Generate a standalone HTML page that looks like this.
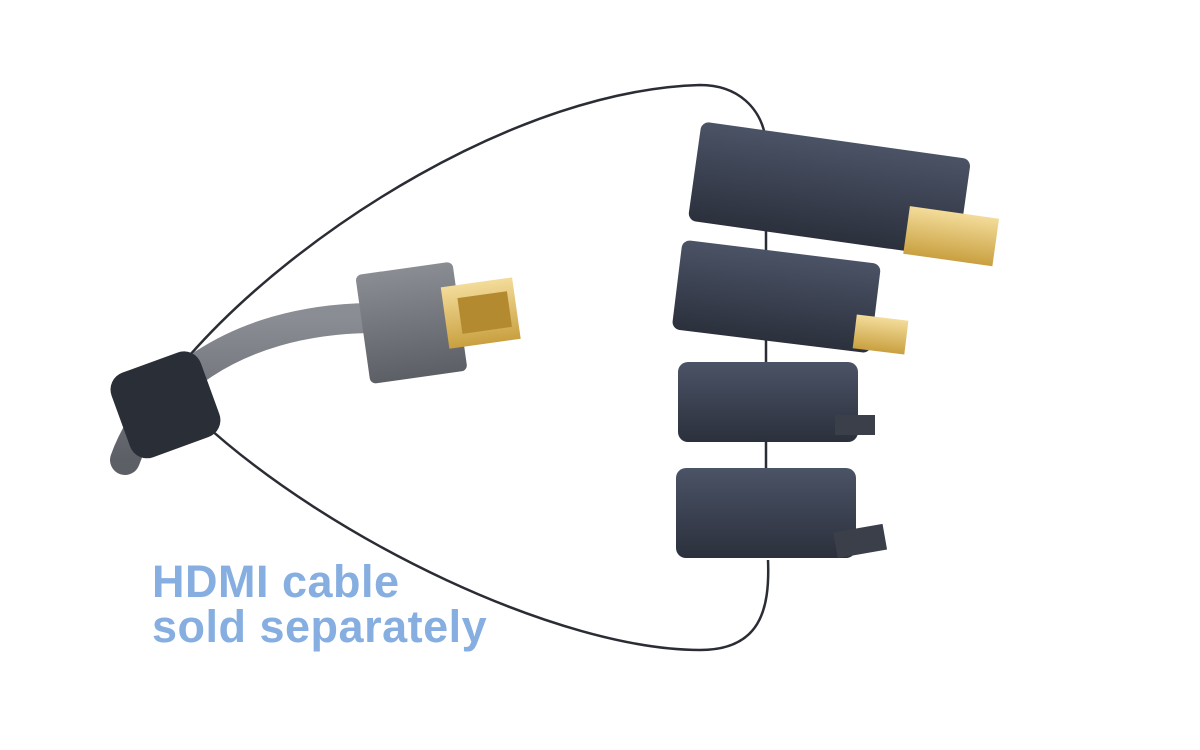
<!DOCTYPE html>
<html><head><meta charset="utf-8"><style>
html,body{margin:0;padding:0;background:#fff;width:1200px;height:750px;overflow:hidden}
.t{position:absolute;left:152px;font-family:"Liberation Sans",sans-serif;font-weight:bold;font-size:45px;letter-spacing:0.5px;color:#86aee0;line-height:46px}
</style></head><body>
<svg width="1200" height="750" style="position:absolute;left:0;top:0">
<defs>
<linearGradient id="nv" x1="0" y1="0" x2="0" y2="1"><stop offset="0" stop-color="#4b5366"/><stop offset="1" stop-color="#2b303c"/></linearGradient>
<linearGradient id="gd" x1="0" y1="0" x2="0" y2="1"><stop offset="0" stop-color="#f3dc9a"/><stop offset="1" stop-color="#c9a040"/></linearGradient>
<linearGradient id="gy" x1="0" y1="0" x2="0" y2="1"><stop offset="0" stop-color="#8a8d93"/><stop offset="1" stop-color="#5c5f66"/></linearGradient>
</defs>
<path d="M190,355 C300,230 520,90 700,85 C740,85 760,110 765,135" fill="none" stroke="#2a2d33" stroke-width="2.5"/>
<path d="M200,420 C330,540 560,650 700,650 C760,650 770,610 768,560" fill="none" stroke="#2a2d33" stroke-width="2.5"/>
<line x1="766" y1="220" x2="766" y2="480" stroke="#2a2d33" stroke-width="2.5"/>
<path d="M125,460 C150,390 230,320 370,318" fill="none" stroke="url(#gy)" stroke-width="30" stroke-linecap="round"/>
<g transform="rotate(-8 410 320)">
<rect x="362" y="268" width="98" height="110" rx="6" fill="url(#gy)"/>
<rect x="445" y="292" width="72" height="62" fill="url(#gd)"/>
<rect x="460" y="305" width="50" height="36" fill="#b48a30"/>
</g>
<g transform="rotate(-20 165 405)">
<rect x="118" y="360" width="95" height="90" rx="18" fill="#2a2e37"/>
</g>
<g transform="rotate(8 830 200)">
<rect x="692" y="140" width="272" height="100" rx="8" fill="url(#nv)"/>
<rect x="910" y="195" width="90" height="48" fill="url(#gd)"/>
</g>
<g transform="rotate(7 780 300)">
<rect x="676" y="252" width="200" height="90" rx="8" fill="url(#nv)"/>
<rect x="858" y="305" width="52" height="34" fill="url(#gd)"/>
</g>
<rect x="678" y="362" width="180" height="80" rx="10" fill="url(#nv)"/>
<rect x="835" y="415" width="40" height="20" fill="#3a3f4a"/>
<rect x="676" y="468" width="180" height="90" rx="10" fill="url(#nv)"/>
<rect x="835" y="528" width="50" height="26" fill="#3a3f4a" transform="rotate(-10 860 540)"/>
</svg>
<div class="t" style="top:559px">HDMI cable</div>
<div class="t" style="top:604px">sold separately</div>
</body></html>
